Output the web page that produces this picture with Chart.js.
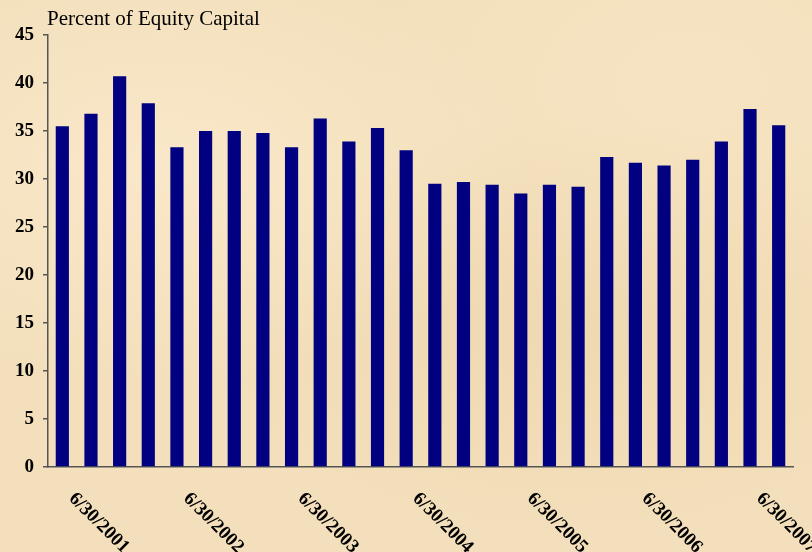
<!DOCTYPE html>
<html>
<head>
<meta charset="utf-8">
<script src="https://cdn.jsdelivr.net/npm/chart.js@4"></script>
<style>
  html, body { margin: 0; padding: 0; }
  body { width: 812px; height: 552px; background: #f3dfbb; overflow: hidden; }
  #wrap { width: 812px; height: 552px; position: relative;
    background:
      radial-gradient(ellipse at 20% 30%, rgba(255,240,215,0.5), rgba(255,240,215,0) 40%),
      radial-gradient(ellipse at 70% 60%, rgba(230,205,160,0.35), rgba(230,205,160,0) 45%),
      radial-gradient(ellipse at 85% 15%, rgba(250,232,200,0.5), rgba(250,232,200,0) 35%),
      #f3dfbb; }
</style>
</head>
<body>
<div id="wrap"><canvas id="chart" width="812" height="552"></canvas></div>
<script>
// 四半期末の日付
const quarters = [
  '6/30/2001', '9/30/2001', '12/31/2001', '3/31/2002',
  '6/30/2002', '9/30/2002', '12/31/2002', '3/31/2003',
  '6/30/2003', '9/30/2003', '12/31/2003', '3/31/2004',
  '6/30/2004', '9/30/2004', '12/31/2004', '3/31/2005',
  '6/30/2005', '9/30/2005', '12/31/2005', '3/31/2006',
  '6/30/2006', '9/30/2006', '12/31/2006', '3/31/2007',
  '6/30/2007', '9/30/2007'
];

// 自己資本比率（%）
const percentOfEquity = [
  35.5, 36.8, 40.7, 37.9,
  33.3, 35.0, 35.0, 34.8,
  33.3, 36.3, 33.9, 35.3,
  33.0, 29.5, 29.7, 29.4,
  28.5, 29.4, 29.2, 32.3,
  31.7, 31.4, 32.0, 33.9,
  37.3, 35.6
];

// 表示するX軸ラベル（毎年6/30のみ）
const shownLabels = ['6/30/2001', '6/30/2002', '6/30/2003', '6/30/2004', '6/30/2005', '6/30/2006', '6/30/2007'];

const yMax = 45;
const yStep = 5;

// 斜めのX軸ラベルとタイトルを描画
const labelPlugin = {
  id: 'diagLabels',
  afterDraw(chart) {
    const ctx = chart.ctx;
    const xScale = chart.scales.x;
    const area = chart.chartArea;
    ctx.save();
    ctx.fillStyle = '#000';
    ctx.font = 'bold 19px "Liberation Serif", serif';
    ctx.textAlign = 'left';
    ctx.textBaseline = 'top';
    quarters.forEach((q, i) => {
      if (!shownLabels.includes(q)) return;
      const x = xScale.getPixelForValue(i);
      ctx.save();
      ctx.translate(x + 16, area.bottom + 22);
      ctx.rotate(Math.PI / 4);
      ctx.fillText(q, 0, 0);
      ctx.restore();
    });
    ctx.font = '21px "Liberation Serif", serif';
    ctx.textBaseline = 'alphabetic';
    ctx.fillText('Percent of Equity Capital', 47, 25);
    ctx.restore();
  }
};

new Chart(document.getElementById('chart'), {
  type: 'bar',
  data: {
    labels: quarters,
    datasets: [{
      data: percentOfEquity,
      backgroundColor: '#000080',
      borderWidth: 0,
      categoryPercentage: 1.0,
      barPercentage: 0.46
    }]
  },
  options: {
    responsive: false,
    animation: false,
    layout: { padding: { top: 35, right: 19, left: 0, bottom: 0 } },
    plugins: {
      legend: { display: false },
      tooltip: { enabled: false }
    },
    scales: {
      x: {
        ticks: { display: false },
        grid: { display: false },
        border: { display: true, color: '#555', width: 1.5 },
        afterFit(scale) { scale.height = 85; }
      },
      y: {
        min: 0,
        max: yMax,
        ticks: {
          stepSize: yStep,
          color: '#000',
          padding: 9,
          font: { family: '"Liberation Serif", serif', size: 19, weight: 'bold' }
        },
        grid: { display: true, drawOnChartArea: false, drawTicks: true, tickLength: 5, color: '#555', lineWidth: 1.5 },
        border: { display: true, color: '#555', width: 1.5 },
        afterFit(scale) { scale.width = 48; }
      }
    }
  },
  plugins: [labelPlugin]
});
</script>
</body>
</html>
